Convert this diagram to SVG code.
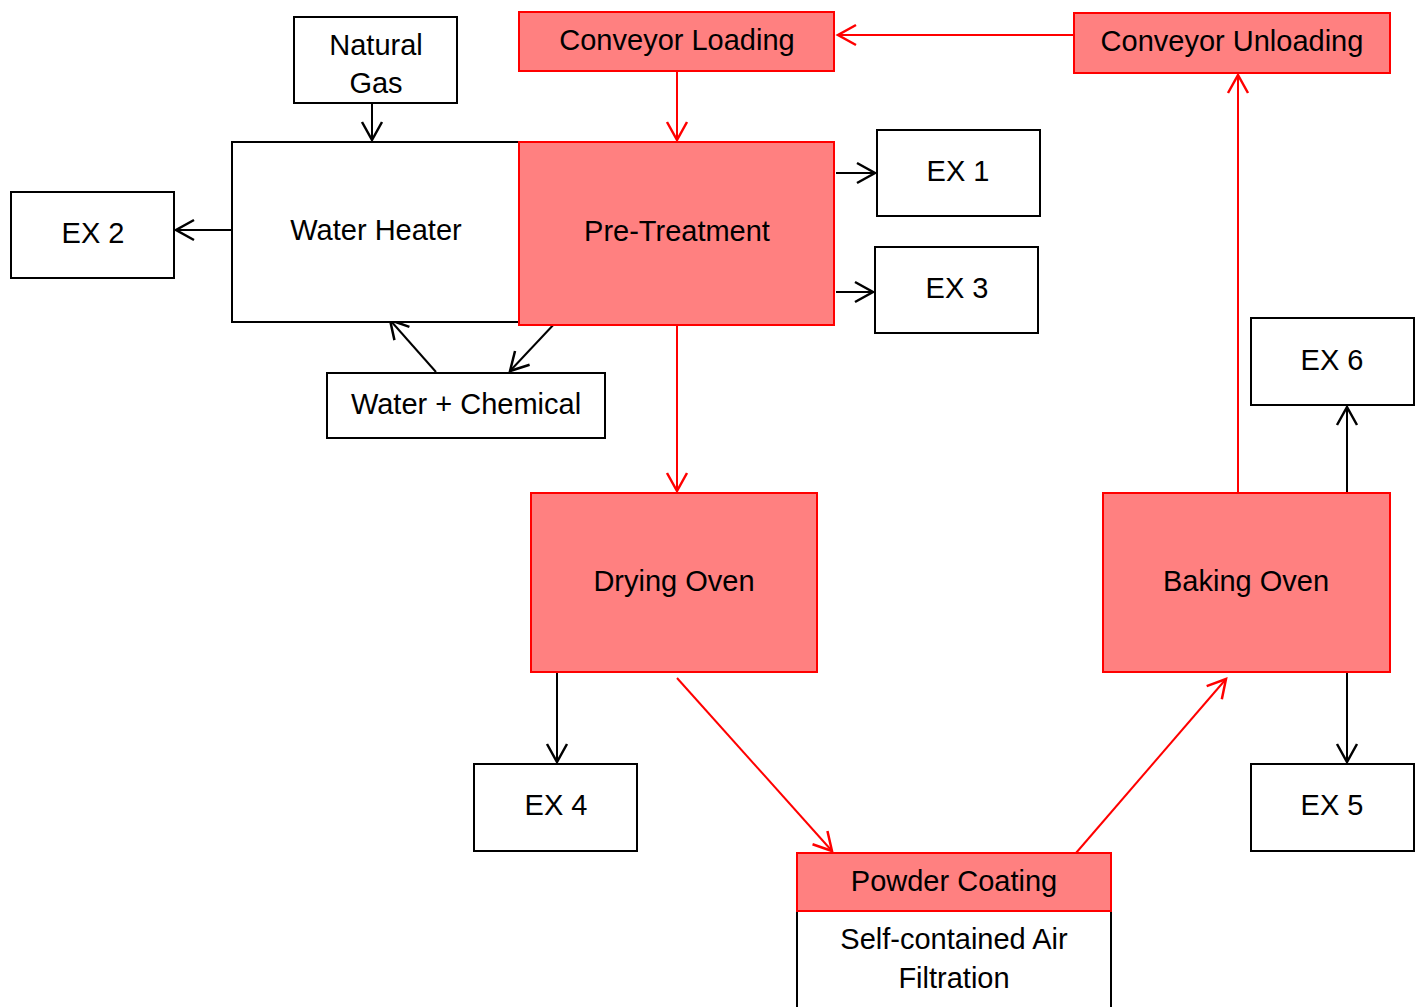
<svg xmlns="http://www.w3.org/2000/svg" width="1421" height="1007" viewBox="0 0 1421 1007">
<style>
.w{fill:#fff;stroke:#000;stroke-width:2}
.r{fill:#ff8080;stroke:#ff0000;stroke-width:2}
text{font-family:"Liberation Sans",Arial,sans-serif;font-size:29px;fill:#000;text-anchor:middle}
.cb{fill:none;stroke:#000;stroke-width:2;marker-end:url(#ab)}
.cr{fill:none;stroke:#ff0000;stroke-width:2;marker-end:url(#ar)}
</style>
<defs>
<marker id="ab" markerUnits="userSpaceOnUse" markerWidth="24" markerHeight="24" viewBox="0 0 24 24" refX="20" refY="12" orient="auto"><path d="M2,2 L20,12 L2,22" fill="none" stroke="#000" stroke-width="2.5"/></marker>
<marker id="ar" markerUnits="userSpaceOnUse" markerWidth="24" markerHeight="24" viewBox="0 0 24 24" refX="20" refY="12" orient="auto"><path d="M2,2 L20,12 L2,22" fill="none" stroke="#ff0000" stroke-width="2.5"/></marker>
</defs>
<rect width="1421" height="1007" fill="#fff"/>
<g id="connectors">
<line class="cr" x1="1074" y1="35" x2="838" y2="35"/>
<line class="cr" x1="677" y1="71" x2="677" y2="140"/>
<line class="cb" x1="372" y1="103" x2="372" y2="140"/>
<line class="cb" x1="232" y1="230" x2="176" y2="230"/>
<line class="cb" x1="836" y1="173" x2="875" y2="173"/>
<line class="cb" x1="836" y1="292" x2="873" y2="292"/>
<line class="cb" x1="556" y1="322" x2="510" y2="371"/>
<line class="cb" x1="436" y1="372" x2="390" y2="320"/>
<line class="cr" x1="677" y1="325" x2="677" y2="491"/>
<line class="cb" x1="557" y1="672" x2="557" y2="762"/>
<line class="cr" x1="677" y1="678" x2="832" y2="851"/>
<line class="cr" x1="1076" y1="853" x2="1226" y2="679"/>
<line class="cb" x1="1347" y1="672" x2="1347" y2="762"/>
<line class="cb" x1="1347" y1="497" x2="1347" y2="407"/>
<line class="cr" x1="1238" y1="493" x2="1238" y2="75"/>
</g>
<g id="natural-gas"><rect class="w" x="294" y="17" width="163" height="86"/><text x="376" y="55">Natural</text><text x="376" y="93">Gas</text></g>
<g id="conveyor-loading"><rect class="r" x="519" y="12" width="315" height="59"/><text x="677" y="50">Conveyor Loading</text></g>
<g id="conveyor-unloading"><rect class="r" x="1074" y="13" width="316" height="60"/><text x="1232" y="51">Conveyor Unloading</text></g>
<g id="water-heater"><rect class="w" x="232" y="142" width="287" height="180"/><text x="376" y="240">Water Heater</text></g>
<g id="pre-treatment"><rect class="r" x="519" y="142" width="315" height="183"/><text x="677" y="241">Pre-Treatment</text></g>
<g id="ex1"><rect class="w" x="877" y="130" width="163" height="86"/><text x="958" y="181">EX 1</text></g>
<g id="ex3"><rect class="w" x="875" y="247" width="163" height="86"/><text x="957" y="298">EX 3</text></g>
<g id="ex2"><rect class="w" x="11" y="192" width="163" height="86"/><text x="93" y="243">EX 2</text></g>
<g id="water-chemical"><rect class="w" x="327" y="373" width="278" height="65"/><text x="466" y="414">Water + Chemical</text></g>
<g id="ex6"><rect class="w" x="1251" y="318" width="163" height="87"/><text x="1332" y="370">EX 6</text></g>
<g id="drying-oven"><rect class="r" x="531" y="493" width="286" height="179"/><text x="674" y="591">Drying Oven</text></g>
<g id="baking-oven"><rect class="r" x="1103" y="493" width="287" height="179"/><text x="1246" y="591">Baking Oven</text></g>
<g id="ex4"><rect class="w" x="474" y="764" width="163" height="87"/><text x="556" y="815">EX 4</text></g>
<g id="ex5"><rect class="w" x="1251" y="764" width="163" height="87"/><text x="1332" y="815">EX 5</text></g>
<g id="powder-coating">
<rect class="w" x="797" y="911" width="314" height="110"/>
<rect class="r" x="797" y="853" width="314" height="58"/>
<text x="954" y="891">Powder Coating</text>
<text x="954" y="949">Self-contained Air</text>
<text x="954" y="988">Filtration</text>
</g>
</svg>
